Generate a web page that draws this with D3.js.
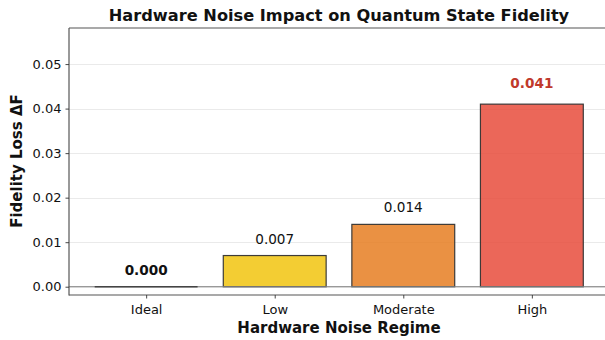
<!DOCTYPE html>
<html>
<head>
<meta charset="utf-8">
<script src="https://cdn.jsdelivr.net/npm/d3@7"></script>
<style>
  html, body { margin: 0; padding: 0; background: #fff; }
  svg { display: block; font-family: "DejaVu Sans", sans-serif; }
</style>
</head>
<body>
<svg id="chart" width="605" height="340"></svg>
<script>
// Fidelity loss per hardware noise regime
const categories = ["Ideal", "Low", "Moderate", "High"];
const fidelityLoss = [0.000, 0.007, 0.014, 0.041];
const barColors = ["#2ecc71", "#f1c40f", "#e67e22", "#e74c3c"];
const yTicks = [0.00, 0.01, 0.02, 0.03, 0.04, 0.05];

const svg = d3.select("#chart");
const W = 605, H = 340;
const plot = { left: 69, right: 609, top: 28, bottom: 295 };

// categorical positions 0..3 with margins of 0.6 on each side
const x = d3.scaleLinear().domain([-0.6, 3.6]).range([plot.left, plot.right]);
const y = d3.scaleLinear().domain([-0.00186, 0.0581]).range([plot.bottom, plot.top]);
const barW = x(0.8) - x(0);

svg.append("defs").append("clipPath").attr("id", "plotClip")
  .append("rect").attr("x", plot.left).attr("y", plot.top)
  .attr("width", plot.right - plot.left).attr("height", plot.bottom - plot.top);

const g = svg.append("g").attr("clip-path", "url(#plotClip)");

// horizontal grid
g.selectAll("line.grid").data(yTicks).join("line")
  .attr("class", "grid")
  .attr("x1", plot.left).attr("x2", plot.right)
  .attr("y1", d => Math.round(y(d)) + 0.5).attr("y2", d => Math.round(y(d)) + 0.5)
  .attr("stroke", "#e5e5e5").attr("stroke-width", 0.8);

// bars
g.selectAll("rect.bar").data(fidelityLoss).join("rect")
  .attr("class", "bar")
  .attr("x", (d, i) => x(i) - barW / 2)
  .attr("width", barW)
  .attr("y", d => y(d))
  .attr("height", d => y(0) - y(d))
  .attr("fill", (d, i) => barColors[i]).attr("fill-opacity", 0.85)
  .attr("stroke", "#333").attr("stroke-opacity", 0.95).attr("stroke-width", 1.2);

// zero reference line
g.append("line")
  .attr("x1", plot.left).attr("x2", plot.right)
  .attr("y1", y(0)).attr("y2", y(0))
  .attr("stroke", "#808080").attr("stroke-opacity", 0.8).attr("stroke-width", 1.3);

// zero-height bar outline on top of the reference line
g.selectAll("line.zerobar").data(fidelityLoss.map((v, i) => [v, i]).filter(d => d[0] === 0)).join("line")
  .attr("class", "zerobar")
  .attr("x1", d => x(d[1]) - barW / 2).attr("x2", d => x(d[1]) + barW / 2)
  .attr("y1", y(0)).attr("y2", y(0))
  .attr("stroke", "#444").attr("stroke-width", 1.4);

// value labels
const labelOffset = [12, 12, 12, 16];
svg.selectAll("text.val").data(fidelityLoss).join("text")
  .attr("class", "val")
  .attr("x", (d, i) => x(i))
  .attr("y", (d, i) => y(d) - labelOffset[i])
  .attr("text-anchor", "middle")
  .attr("font-size", 13.6)
  .attr("font-weight", (d, i) => (i === 0 || i === 3) ? "bold" : "normal")
  .attr("fill", (d, i) => i === 3 ? "#c0392b" : "#111")
  .text(d => d.toFixed(3));

// spines (left, top, bottom)
const spine = "#555";
svg.append("line").attr("x1", plot.left).attr("x2", plot.left)
  .attr("y1", plot.top).attr("y2", plot.bottom + 0.5)
  .attr("stroke", spine).attr("stroke-width", 1.2);
svg.append("line").attr("x1", plot.left).attr("x2", W)
  .attr("y1", plot.top).attr("y2", plot.top)
  .attr("stroke", spine).attr("stroke-width", 1.2);
svg.append("line").attr("x1", plot.left).attr("x2", W)
  .attr("y1", plot.bottom).attr("y2", plot.bottom)
  .attr("stroke", spine).attr("stroke-width", 1.2);

// y axis
const yAxis = d3.axisLeft(y).tickValues(yTicks).tickFormat(d3.format(".2f"))
  .tickSize(3.5).tickPadding(4);
const ya = svg.append("g").attr("transform", `translate(${plot.left},0)`).call(yAxis);
ya.select(".domain").remove();
ya.selectAll(".tick line").attr("stroke", "#333").attr("stroke-width", 0.9);
ya.selectAll(".tick text").attr("font-size", 13).attr("fill", "#111")
  .attr("font-family", "DejaVu Sans, sans-serif");

// x axis
const xAxis = d3.axisBottom(x).tickValues(d3.range(categories.length))
  .tickFormat(i => categories[i]).tickSize(3.5).tickPadding(6);
const xa = svg.append("g").attr("transform", `translate(0,${plot.bottom})`).call(xAxis);
xa.select(".domain").remove();
xa.selectAll(".tick line").attr("stroke", "#333").attr("stroke-width", 0.9);
xa.selectAll(".tick text").attr("font-size", 13).attr("fill", "#111")
  .attr("font-family", "DejaVu Sans, sans-serif");

// title and axis labels
svg.append("text").attr("x", 339).attr("y", 21).attr("text-anchor", "middle")
  .attr("font-size", 16.2).attr("font-weight", "bold").attr("fill", "#111")
  .text("Hardware Noise Impact on Quantum State Fidelity");
svg.append("text").attr("x", 339).attr("y", 333).attr("text-anchor", "middle")
  .attr("font-size", 15).attr("font-weight", "bold").attr("fill", "#111")
  .text("Hardware Noise Regime");
svg.append("text").attr("transform", "translate(22,161) rotate(-90)")
  .attr("text-anchor", "middle")
  .attr("font-size", 15).attr("font-weight", "bold").attr("fill", "#111")
  .text("Fidelity Loss ΔF");
</script>
</body>
</html>
